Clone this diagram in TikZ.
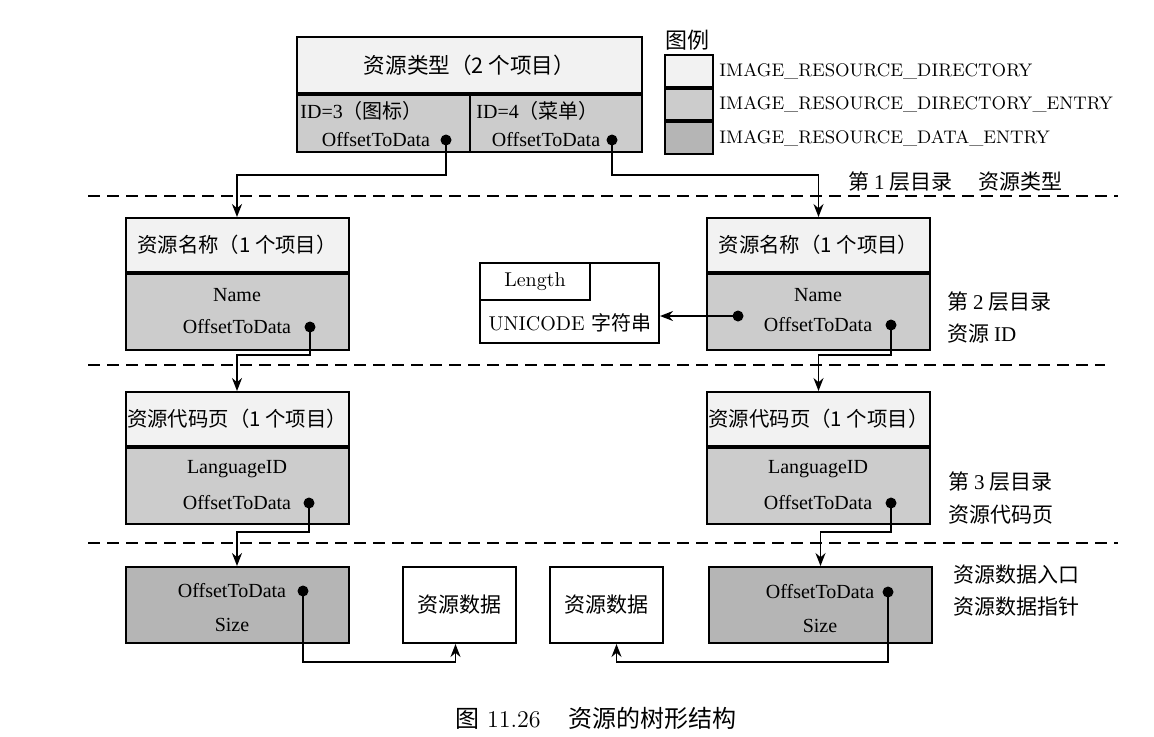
\documentclass[tikz,border=0pt]{standalone}
\usepackage{fontspec}
\newfontfamily\zhfont{Noto Sans CJK SC}
\newfontfamily\tmfont{Liberation Serif}
\newcommand\zh[1]{{\zhfont#1}}
\usetikzlibrary{arrows.meta,positioning}
\colorlet{dirfill}{gray!10}
\colorlet{entfill}{gray!40}
\colorlet{datfill}{gray!58}

\begin{document}
\begin{tikzpicture}[x=0.5pt,y=-0.5pt,
  box/.style={draw,line width=1pt,inner sep=0pt,minimum width=111.5pt},
  headbox/.style={box,fill=dirfill,minimum height=27pt,font=\zhfont\fontsize{10.2}{12}\selectfont},
  entbox/.style={box,fill=entfill,minimum height=38pt},
  datbox/.style={box,fill=datfill,minimum height=38pt},
  rawbox/.style={draw,line width=1pt,fill=white,minimum width=56.5pt,minimum height=38pt,inner sep=0pt,font=\zhfont\fontsize{10.5}{12}\selectfont},
  field/.style={inner sep=0pt,font=\tmfont\fontsize{10}{12}\selectfont},
  tipdot/.style={circle,fill=black,inner sep=0pt,minimum size=5.5pt},
  link/.style={line width=0.8pt,-{Stealth[length=6.5pt,width=5pt]}},
  layerline/.style={line width=0.8pt,dash pattern=on 6pt off 3.5pt},
  note/.style={anchor=west,inner sep=0pt,font=\zhfont\fontsize{10.5}{12}\selectfont},
  legbox/.style={draw,line width=1pt,minimum width=24pt,minimum height=15.8pt,inner sep=0pt},
  legtext/.style={inner sep=0pt,font=\fontsize{9.1}{11}\selectfont}]

\useasboundingbox (0,0) rectangle (1154,736);

\node[headbox,minimum width=172.5pt,minimum height=28pt,font=\zhfont\fontsize{10.8}{12}\selectfont] (types) at (469.5,65) {资源类型（2 个项目）};
\node[entbox,minimum width=86.5pt,minimum height=28.5pt,anchor=north west] (icon) at (types.south west) {};
\node[entbox,minimum width=86pt,minimum height=28.5pt,anchor=north east] (menu) at (types.south east) {};
\node[field,anchor=west] (icon-id) at (300,111) {ID=3\zh{（图标）}};
\node[field] (icon-off) at (376,140) {OffsetToData};
\node[tipdot] (icon-dot) at (446,140) {};
\node[field,anchor=west] (menu-id) at (476,111) {ID=4\zh{（菜单）}};
\node[field] (menu-off) at (546,140) {OffsetToData};
\node[tipdot] (menu-dot) at (612,140) {};

\node[note,font=\zhfont\fontsize{11}{13}\selectfont] (legend) at (665,40) {图例};
\node[legbox,fill=dirfill] (key-dir) at (689,71) {};
\node[legbox,fill=entfill,below=0pt of key-dir] (key-ent) {};
\node[legbox,fill=datfill,below=0pt of key-ent] (key-dat) {};
\node[legtext,right=2.5pt of key-dir] (key-dir-txt) {IMAGE\_RESOURCE\_DIRECTORY};
\node[legtext,right=2.5pt of key-ent] (key-ent-txt) {IMAGE\_RESOURCE\_DIRECTORY\_ENTRY};
\node[legtext,right=2.5pt of key-dat] (key-dat-txt) {IMAGE\_RESOURCE\_DATA\_ENTRY};

\draw[layerline] (88,196) -- (1118,196);
\draw[layerline] (88,365) -- (1105,365);
\draw[layerline] (88,543) -- (1118,543);

\node[headbox] (nameL) at (237,245) {资源名称（1 个项目）};
\node[entbox,below=0pt of nameL] (nameL-ent) {};
\node[field] (nameL-name) at (237,295) {Name};
\node[field] (nameL-off) at (237,327) {OffsetToData};
\node[tipdot] (nameL-dot) at (310,327) {};

\node[headbox] (nameR) at (818.5,245) {资源名称（1 个项目）};
\node[entbox,below=0pt of nameR] (nameR-ent) {};
\node[field] (nameR-name) at (818,295) {Name};
\node[field] (nameR-off) at (818,325) {OffsetToData};
\node[tipdot] (nameR-sdot) at (738,316) {};
\node[tipdot] (nameR-dot) at (891,325) {};

\node[draw,line width=1pt,minimum width=89.5pt,minimum height=40pt,inner sep=0pt] (ustr) at (569.5,303) {};
\node[draw,line width=1pt,minimum width=55pt,minimum height=18.5pt,inner sep=0pt,anchor=north west] (ulen) at (ustr.north west) {Length};
\node[inner sep=0pt] (ustr-txt) at (570,323) {UNICODE \zh{字符串}};

\node[headbox] (pageL) at (237,419) {资源代码页（1 个项目）};
\node[entbox,below=0pt of pageL] (pageL-ent) {};
\node[field] (pageL-lang) at (237,469) {LanguageID};
\node[field] (pageL-off) at (237,503) {OffsetToData};
\node[tipdot] (pageL-dot) at (309,503) {};

\node[headbox] (pageR) at (818.5,419) {资源代码页（1 个项目）};
\node[entbox,below=0pt of pageR] (pageR-ent) {};
\node[field] (pageR-lang) at (818,469) {LanguageID};
\node[field] (pageR-off) at (818,503) {OffsetToData};
\node[tipdot] (pageR-dot) at (891,503) {};

\node[datbox] (dataL) at (237,605) {};
\node[field] (dataL-off) at (232,591) {OffsetToData};
\node[field] (dataL-size) at (232,625) {Size};
\node[tipdot] (dataL-dot) at (303,591) {};

\node[datbox] (dataR) at (820.5,605) {};
\node[field] (dataR-off) at (820,592) {OffsetToData};
\node[field] (dataR-size) at (820,626) {Size};
\node[tipdot] (dataR-dot) at (888,592) {};

\node[rawbox] (rawL) at (459.5,605) {资源数据};
\node[rawbox] (rawR) at (606.5,605) {资源数据};

\coordinate (bend1) at (0,175);
\coordinate (bend2) at (0,355);
\coordinate (bend3) at (0,532);
\coordinate (bend4) at (0,662);

\draw[link] (icon-dot.center) -- (icon-dot |- bend1) -| (nameL.north);
\draw[link] (menu-dot.center) -- (menu-dot |- bend1) -| (nameR.north);
\draw[link] (nameR-sdot.center) -- (nameR-sdot -| ustr.east);
\draw[link] (nameL-dot.center) -- (nameL-dot |- bend2) -| (pageL.north);
\draw[link] (nameR-dot.center) -- (nameR-dot |- bend2) -| (pageR.north);
\draw[link] (pageL-dot.center) -- (pageL-dot |- bend3) -| (dataL.north);
\draw[link] (pageR-dot.center) -- (pageR-dot |- bend3) -| (dataR.north);
\draw[link] (dataL-dot.center) -- (dataL-dot |- bend4) -| ([xshift=-2pt]rawL.south);
\draw[link] (dataR-dot.center) -- (dataR-dot |- bend4) -| ([xshift=5pt]rawR.south);

\node[note] (lvl1) at (848,182) {第 {\tmfont 1} 层目录\hspace{13pt}资源类型};
\node[note] (lvl2a) at (947,302) {第 {\tmfont 2} 层目录};
\node[note] (lvl2b) at (947,334) {资源 {\tmfont ID}};
\node[note] (lvl3a) at (948,482) {第 {\tmfont 3} 层目录};
\node[note] (lvl3b) at (948,515) {资源代码页};
\node[note] (lvl4a) at (953,575) {资源数据入口};
\node[note] (lvl4b) at (953,607) {资源数据指针};

\node[inner sep=0pt,font=\fontsize{12}{14}\selectfont] (caption) at (596,718) {\zh{图} 11.26\hspace{14pt}\zh{资源的树形结构}};
\end{tikzpicture}
\end{document}
